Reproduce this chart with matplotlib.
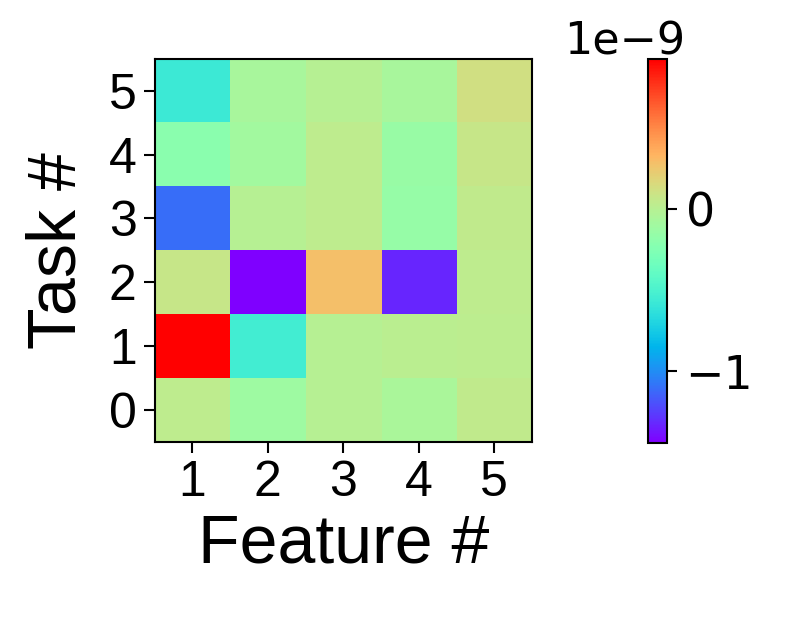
import numpy as np
import matplotlib.pyplot as plt
from matplotlib.ticker import MultipleLocator

features = [1, 2, 3, 4, 5]
tasks = [0, 1, 2, 3, 4, 5]

# rows = task 0..5, columns = feature 1..5, values in units of 1e-9
task0 = [0.03, -0.12, 0.00, -0.06, 0.04]
task1 = [0.926, -0.54, 0.00, 0.01, 0.02]
task2 = [0.07, -1.444, 0.286, -1.33, 0.03]
task3 = [-1.11, 0.00, 0.03, -0.15, 0.04]
task4 = [-0.21, -0.10, 0.03, -0.14, 0.07]
task5 = [-0.567, -0.07, 0.00, -0.07, 0.12]

values = np.array([task0, task1, task2, task3, task4, task5]) * 1e-9

fig = plt.figure(figsize = (7.89, 6.19), dpi = 100)
ax = fig.add_axes([0.196, 0.286, 0.478, 0.619])
cax = fig.add_axes([0.821, 0.284, 0.025, 0.621])

im = ax.imshow(values, cmap = "rainbow", origin = "lower", aspect = "auto",
               extent = [0.5, 5.5, -0.5, 5.5])
ax.set_xticks(features)
ax.set_yticks(tasks)
ax.set_xticklabels([str(f) for f in features], fontname = "Liberation Sans", size = 36)
ax.set_yticklabels([str(t) for t in tasks], fontname = "Liberation Sans", size = 36)
ax.tick_params(length = 8, width = 1.5, pad = 5)
for spine in ax.spines.values():
    spine.set_linewidth(1.5)
ax.set_xlabel("Feature #", fontname = "Liberation Sans", size = 49, labelpad = 5)
ax.set_ylabel("Task #", fontname = "Liberation Sans", size = 49, labelpad = 14)

cbar = fig.colorbar(im, cax = cax)
cbar.ax.yaxis.set_major_locator(MultipleLocator(1e-9))
cbar.ax.tick_params(length = 7, width = 1.5, pad = 6)
for lbl in cbar.ax.get_yticklabels():
    lbl.set_fontfamily("DejaVu Sans")
    lbl.set_fontsize(33)
off = cbar.ax.yaxis.get_offset_text()
off.set_fontfamily("DejaVu Sans")
off.set_fontsize(32)
off.set_x(1.9)
cbar.outline.set_linewidth(1.5)

fig.savefig("out.png", dpi = 100)
